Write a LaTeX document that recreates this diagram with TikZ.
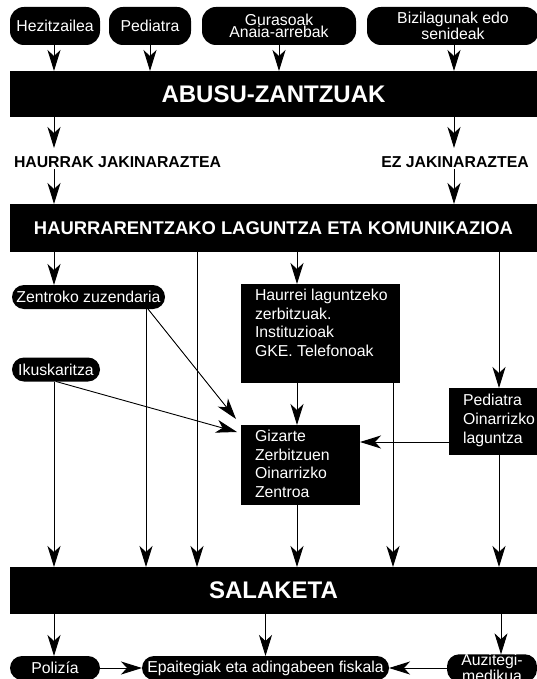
\documentclass[tikz,border=0pt]{standalone}
\usepackage{fontspec}
\setmainfont{Liberation Sans}
\usetikzlibrary{arrows.meta,calc}
\begin{document}
\begin{tikzpicture}[x=1pt,y=-1pt,
 every node/.style={inner sep=0pt, outer sep=0pt},
 pilltop/.style={fill=black, text=white, rounded corners=14pt, minimum height=38pt, align=center, font=\fontsize{15.8}{11.8}\selectfont},
 pill/.style={fill=black, text=white, rounded corners=12pt, minimum height=24pt, align=center, font=\fontsize{15.8}{12}\selectfont},
 bar/.style={fill=black, text=white, minimum width=527pt, font=\bfseries\fontsize{24}{24}\selectfont},
 box/.style={fill=black},
 boxtext/.style={text=white, align=left, anchor=north west, font=\fontsize{15.8}{18.4}\selectfont},
 lab/.style={font=\bfseries\fontsize{15.8}{15.8}\selectfont},
 conn/.style={line width=0.9pt, draw=black},
 arr/.style={conn, -{Stealth[length=21pt,width=13pt,inset=6pt]}}
]
\useasboundingbox (0,0) rectangle (537,679);
% column coordinates
\coordinate (c1) at (54,0);
\coordinate (c2) at (146,0);
\coordinate (c3) at (197,0);
\coordinate (c4) at (297,0);
\coordinate (c5) at (393,0);
\coordinate (c6) at (499,0);
\coordinate (c7) at (501,0);
\coordinate (c8) at (454,0);
\coordinate (r1) at (0,442);

% top pills
\node[pilltop, minimum width=90pt] (hez) at (55,26) {Hezitzailea};
\node[pilltop, minimum width=82pt] (ped) at (150,26) {Pediatra};
\node[pilltop, minimum width=154pt] (gur) at (279,26) {Gurasoak\\Anaia-arrebak};
\node[pilltop, minimum width=172pt] (biz) at (453,26) {Bizilagunak edo\\senideak};

% bar 1
\node[bar, minimum height=46pt] (abusu) at (273.5,94) {ABUSU-ZANTZUAK};

\draw[arr] (hez.south -| c1) -- (abusu.north -| c1);
\draw[arr] (ped.south) -- (abusu.north -| ped.south);
\draw[arr] (gur.south) -- (abusu.north -| gur.south);
\draw[arr] (biz.south -| c8) -- (abusu.north -| c8);

% labels
\node[lab, anchor=west] (hjak) at (14,162) {HAURRAK JAKINARAZTEA};
\node[lab] (ezjak) at (455,162) {EZ JAKINARAZTEA};
\coordinate (hjt) at (54,148);
\coordinate (hjb) at (54,169);
\coordinate (ezt) at (454,148);
\coordinate (ezb) at (454,169);

% bar 2
\node[bar, minimum height=48pt, font=\bfseries\fontsize{18.4}{18.4}\selectfont] (bar2) at (273.5,228) {HAURRARENTZAKO LAGUNTZA ETA KOMUNIKAZIOA};

\draw[arr] (abusu.south -| c1) -- (hjt);
\draw[arr] (hjb) -- (bar2.north -| c1);
\draw[arr] (abusu.south -| c8) -- (ezt);
\draw[arr] (ezb) -- (bar2.north -| c8);

% middle nodes
\node[pill, minimum width=153pt] (zen) at (88.5,297) {Zentroko zuzendaria};
\node[pill, minimum width=88pt] (iku) at (56,369.5) {Ikuskaritza};

\node[box, minimum width=159pt, minimum height=99pt] (hau) at (320.5,333.5) {};
\node[boxtext] (hautxt) at (255,289.5) {Haurrei laguntzeko\\zerbitzuak.\\Instituzioak\\GKE. Telefonoak};

\node[box, minimum width=119pt, minimum height=80pt] (giz) at (300.5,465) {};
\node[boxtext] (giztxt) at (255,430.5) {Gizarte\\Zerbitzuen\\Oinarrizko\\Zentroa};

\node[box, minimum width=88pt, minimum height=67pt] (ped2) at (493,421.5) {};
\node[boxtext, font=\fontsize{15.8}{19}\selectfont] (ped2txt) at (463,394.5) {Pediatra\\Oinarrizko\\laguntza};

% SALAKETA
\node[bar, minimum height=47pt] (sal) at (273.5,590.5) {SALAKETA};

% bottom pills
\node[pill, minimum width=90pt] (pol) at (55,668) {Polizía};
\node[pill, minimum width=247pt] (epa) at (265.5,668) {Epaitegiak eta adingabeen fiskala};
\node[pill, minimum width=90pt] (auz) at (492,668) {Auzitegi-\\medikua};

% connectors from bar 2
\draw[arr] (bar2.south -| c1) -- (zen.north -| c1);
\draw[arr] (bar2.south -| c3) -- (sal.north -| c3);
\draw[arr] (bar2.south -| c4) -- (hau.north -| c4);
\draw[arr] (bar2.south -| c6) -- (ped2.north -| c6);

% Zentroko
\draw[arr] (zen.south -| c2) -- (sal.north -| c2);
\draw[arr] ($(zen.south east)+(-17,0)$) -- ($(giz.north west)+(-5,-6)$);
% Ikuskaritza
\draw[arr] (iku.south -| c1) -- (sal.north -| c1);
\draw[arr] (iku.south) -- ($(giz.north west)+(-4,7)$);
% Haurrei
\draw[arr] (hau.south -| c4) -- (giz.north -| c4);
\draw[arr] (hau.south -| c5) -- (sal.north -| c5);
% Gizarte
\draw[arr] (giz.south -| c4) -- (sal.north -| c4);
% Pediatra box
\draw[arr] (ped2.west |- r1) -- (giz.east |- r1);
\draw[arr] (ped2.south -| c6) -- (sal.north -| c6);

% from SALAKETA
\draw[arr] (sal.south -| c1) -- (pol.north -| c1);
\draw[arr] (sal.south -| epa.north) -- (epa.north);
\draw[arr] (sal.south -| c7) -- (auz.north -| c7);
\draw[arr] (pol.east) -- (epa.west);
\draw[arr] (auz.west) -- (epa.east);
\end{tikzpicture}
\end{document}
